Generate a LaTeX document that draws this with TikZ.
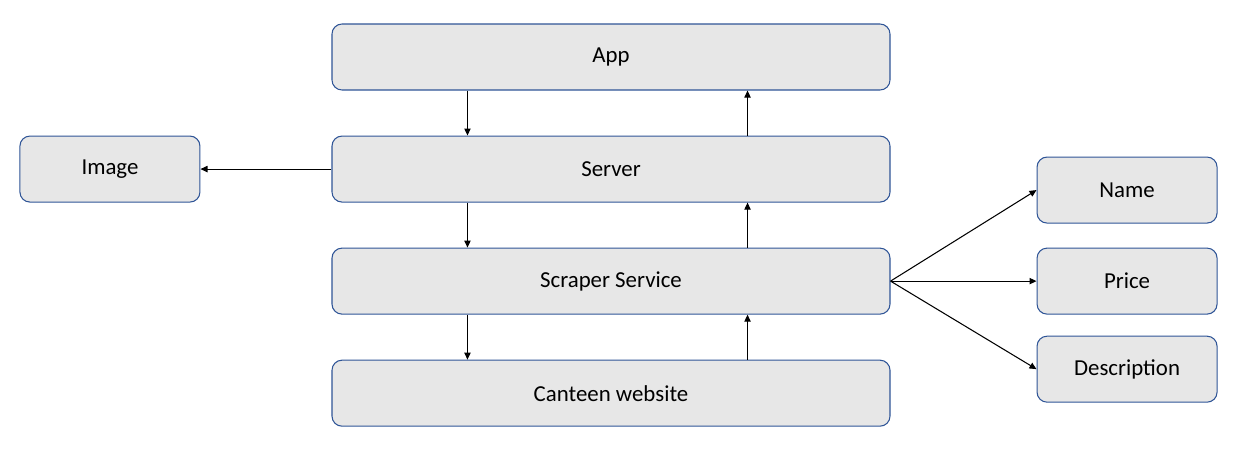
\documentclass[tikz,border=0pt]{standalone}
\usepackage{fontspec}
\setmainfont{Carlito}
\usetikzlibrary{positioning,arrows.meta}
\definecolor{boxfill}{HTML}{E7E7E7}
\definecolor{boxline}{HTML}{2F5597}
\begin{document}
\begin{tikzpicture}[node distance=0.9cm]

    \tikzstyle{block} = [rectangle, draw=boxline, fill=boxfill, line width=0.6pt, rounded corners=0.2cm, minimum width=11.16cm, minimum height=1.32cm, font=\fontsize{13}{15}\selectfont]
    \tikzstyle{small} = [block, minimum width=3.6cm]
    \tikzstyle{arrow} = [line width=0.6pt,-{Triangle[length=4pt,width=3.6pt]}]

    \useasboundingbox (0,0) rectangle (24.7,-9.02);

    \node (app) [block] at (12.22,-1.14) {App};

    \node (server) [block, below=of app] {Server};

    \node (scraper) [block, below=of server] {Scraper Service};

    \node (canteen) [block, below=of scraper] {Canteen website};

    \node (image) [small, left=2.62cm of server] {Image};

    \node (price) [small, right=2.92cm of scraper] {Price};

    \node (name) [small, above=0.48cm of price] {Name};

    \node (description) [small, below=0.42cm of price] {Description};

    \draw [arrow] ([xshift=2.72cm]app.south west) -- ([xshift=2.72cm]server.north west);
    \draw [arrow] ([xshift=-2.86cm]server.north east) -- ([xshift=-2.86cm]app.south east);
    \draw [arrow] ([xshift=2.72cm]server.south west) -- ([xshift=2.72cm]scraper.north west);
    \draw [arrow] ([xshift=-2.86cm]scraper.north east) -- ([xshift=-2.86cm]server.south east);
    \draw [arrow] ([xshift=2.72cm]scraper.south west) -- ([xshift=2.72cm]canteen.north west);
    \draw [arrow] ([xshift=-2.86cm]canteen.north east) -- ([xshift=-2.86cm]scraper.south east);
    \draw [arrow] (server) -- (image);
    \draw [arrow] (scraper.east) -- (name.west);
    \draw [arrow] (scraper.east) -- (price.west);
    \draw [arrow] (scraper.east) -- (description.west);

\end{tikzpicture}
\end{document}
